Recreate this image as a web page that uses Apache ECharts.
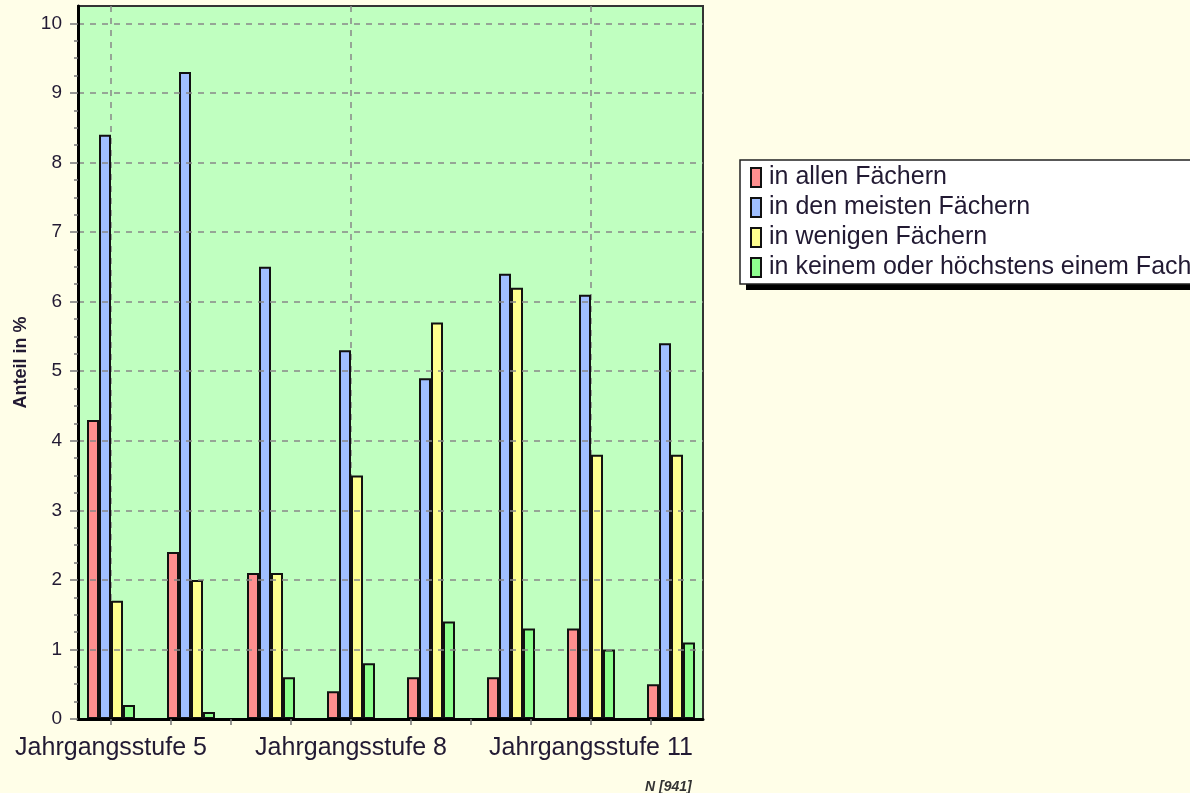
<!DOCTYPE html>
<html>
<head>
<meta charset="utf-8">
<script src="https://cdn.jsdelivr.net/npm/echarts@6/dist/echarts.min.js"></script>
<style>
  html, body { margin: 0; padding: 0; background: #fffee8; }
  #chart { width: 1190px; height: 793px; }
</style>
</head>
<body>
<div id="chart"></div>
<script>
// Werte
var stufen = ['Jahrgangsstufe 5', 'Jahrgangsstufe 6', 'Jahrgangsstufe 7', 'Jahrgangsstufe 8',
              'Jahrgangsstufe 9', 'Jahrgangsstufe 10', 'Jahrgangsstufe 11', 'Jahrgangsstufe 12'];
var serienNamen = ['in allen Fächern', 'in den meisten Fächern', 'in wenigen Fächern', 'in keinem oder höchstens einem Fach'];
var allen   = [4.3, 2.4, 2.1, 0.4, 0.6, 0.6, 1.3, 0.5];
var meisten = [8.4, 9.3, 6.5, 5.3, 4.9, 6.4, 6.1, 5.4];
var wenigen = [1.7, 2.0, 2.1, 3.5, 5.7, 6.2, 3.8, 3.8];
var keinem  = [0.2, 0.1, 0.6, 0.8, 1.4, 1.3, 1.0, 1.1];
var farben = ['#ff8f8f', '#a0bfff', '#ffff8f', '#8fff8f'];
var yTicks = [0, 1, 2, 3, 4, 5, 6, 7, 8, 9, 10];

var werte = [allen, meisten, wenigen, keinem];
var series = werte.map(function (d, i) {
  return {
    name: serienNamen[i],
    type: 'bar',
    xAxisIndex: 2,
    yAxisIndex: 1,
    data: d,
    barWidth: 12,
    barGap: '0%',
    itemStyle: { color: farben[i], borderColor: '#111', borderWidth: 2 },
    z: 5
  };
});

var dash = { color: '#888', width: 1.5, type: [6, 6] };
var font = 'Liberation Sans, Arial, sans-serif';
var textFarbe = '#221a33';

var option = {
  backgroundColor: '#fffee8',
  animation: false,
  title: {
    text: 'N [941]',
    left: 640, top: 775,
    textStyle: { fontSize: 14, fontStyle: 'italic', fontWeight: 'bold', color: '#333', fontFamily: font }
  },
  // Schatten hinter der Legende
  graphic: [{
    type: 'rect', left: 746, top: 167, z: 0, silent: true,
    shape: { width: 480, height: 123 },
    style: { fill: '#000' }
  }],
  legend: {
    orient: 'vertical',
    left: 740, top: 160,
    data: serienNamen,
    icon: 'rect',
    itemWidth: 10, itemHeight: 19, itemGap: 5,
    padding: [5, 300, 4, 10],
    backgroundColor: '#fff',
    borderColor: '#222', borderWidth: 1.5,
    z: 5,
    textStyle: { fontSize: 25, color: textFarbe, fontFamily: font, padding: [0, 0, 0, 3] }
  },
  grid: [
    { left: 78, right: 487, top: 6, bottom: 74, outerBoundsMode: 'none', containLabel: false,
      show: true, backgroundColor: '#c0ffc0', borderColor: '#333', borderWidth: 2 },
    { left: 71, right: 479, top: 6, bottom: 74, outerBoundsMode: 'none', containLabel: false }
  ],
  xAxis: [
    { // Achsenlinie mit Teilstrichen
      type: 'value', gridIndex: 0, min: 0, max: 625,
      axisLine: { show: true, onZero: false, lineStyle: { color: '#000', width: 3 } },
      axisTick: { show: true, length: 6, customValues: [33, 93, 153, 213, 273, 333, 393, 453, 513, 573], lineStyle: { color: '#777', width: 1.5 } },
      axisLabel: { show: false },
      splitLine: { show: false },
      z: 6
    },
    { // senkrechte Gitterlinien
      type: 'value', gridIndex: 0, min: 0, max: 625,
      axisLine: { show: false },
      axisTick: { show: false, customValues: [33, 273, 513] },
      axisLabel: { show: false },
      splitLine: { show: true, lineStyle: dash }
    },
    { // Kategorien für die Balken
      type: 'category', gridIndex: 1, data: stufen,
      axisLine: { show: false },
      axisTick: { show: false },
      axisLabel: { interval: 2, margin: 17, fontSize: 25, color: textFarbe, fontFamily: font },
      splitLine: { show: false }
    }
  ],
  yAxis: [
    {
      type: 'value', gridIndex: 0, min: 0, max: 10.25, interval: 1,
      name: 'Anteil in %', nameLocation: 'middle', nameGap: 48,
      nameTextStyle: { fontSize: 18, fontWeight: 'bold', color: textFarbe, fontFamily: font },
      axisLine: { show: true, onZero: false, lineStyle: { color: '#000', width: 3 } },
      axisTick: { show: true, length: 8, customValues: yTicks, lineStyle: { color: '#777', width: 1.5 } },
      minorTick: { show: true, splitNumber: 4, length: 4, lineStyle: { color: '#777', width: 1.5 } },
      axisLabel: { margin: 16, fontSize: 19, color: textFarbe, fontFamily: font, customValues: yTicks },
      splitLine: { show: true, lineStyle: dash },
      z: 6
    },
    {
      type: 'value', gridIndex: 1, min: 0, max: 10.25,
      show: false
    }
  ],
  series: series
};

var chart = echarts.init(document.getElementById('chart'));
chart.setOption(option);
</script>
</body>
</html>
